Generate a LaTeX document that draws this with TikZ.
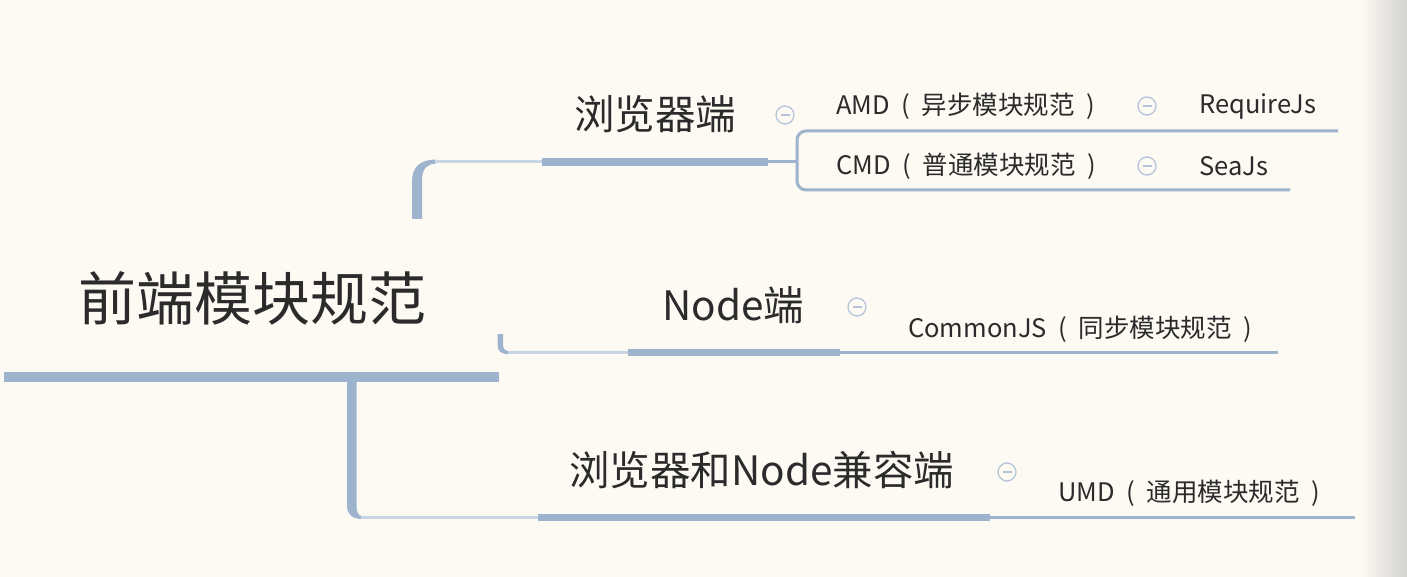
\documentclass[tikz,border=0pt]{standalone}
\usepackage{fontspec}
\setmainfont{Noto Sans CJK SC}
\definecolor{bg}{HTML}{FDFAF3}
\definecolor{edge}{HTML}{D3D3D2}
\definecolor{mainc}{HTML}{9EB3CD}
\definecolor{lightc}{HTML}{C9D5E3}
\definecolor{iconc}{HTML}{B5C5D8}
\definecolor{txt}{HTML}{2B2B2B}
\newcommand\mylp{\makebox[1.25em][c]{(}}
\newcommand\myrp{\makebox[1.25em][c]{)}}
\tikzset{
  rootstyle/.style={inner sep=0, anchor=west, text=txt, font=\fontsize{58}{64}\selectfont},
  subtopic/.style={inner sep=0, anchor=west, text=txt, font=\fontsize{40.5}{46}\selectfont},
  leaf/.style={inner sep=0, anchor=west, text=txt, font=\fontsize{25.5}{30}\selectfont},
  collapse/.style={circle, draw=iconc, line width=1.3, minimum size=18, inner sep=0,
    path picture={\draw[iconc, line width=1.3] ([xshift=-4.5]path picture bounding box.center) -- ([xshift=4.5]path picture bounding box.center);}},
  thickline/.style={draw=mainc, line cap=butt},
  thinline/.style={draw=mainc, line width=3},
  fadeline/.style={draw=lightc, line width=3.5},
}
\begin{document}
\begin{tikzpicture}[x=1pt,y=-1pt]
\useasboundingbox (0,0) rectangle (1407,577);
\fill[bg] (0,0) rectangle (1407,577);
\shade[left color=bg, right color=edge] (1360,0) rectangle (1407,577);

% texts
\node[rootstyle] (root) at (78,298) {前端模块规范};
\node[subtopic] (browser) at (574,114) {浏览器端};
\node[subtopic] (node) at (662,305.5) {Node端};
\node[subtopic] (both) at (569,470) {浏览器和Node兼容端};
\node[leaf] (amd) at (836,106.5) {AMD\mylp 异步模块规范\myrp};
\node[leaf] (cmd) at (836,166.5) {CMD\mylp 普通模块规范\myrp};
\node[leaf] (req) at (1199,106.5) {RequireJs};
\node[leaf] (sea) at (1199,166.5) {SeaJs};
\node[leaf] (cjs) at (908,329) {CommonJS\mylp 同步模块规范\myrp};
\node[leaf] (umd) at (1058,493) {UMD\mylp 通用模块规范\myrp};

% collapse icons
\node[collapse] (c1) at (785,115) {};
\node[collapse] (c2) at (1147,106) {};
\node[collapse] (c3) at (1147,166) {};
\node[collapse] (c4) at (857,307) {};
\node[collapse] (c5) at (1007,472) {};

% root underline and trunk
\coordinate (rootL) at (4,376.7);
\coordinate (rootR) at (499,376.7);
\draw[thickline, line width=10] (rootL) -- (rootR);
\fill[mainc] (347,381) -- (347,506) .. controls (347,514) and (352,519) .. (362,519) -- (362,516) .. controls (358,516) and (356.5,512) .. (356.5,504) -- (356.5,381) -- cycle;
\coordinate (bothA) at (361,517.5);
\coordinate (bothB) at (538,517.5);
\coordinate (bothC) at (990,517.5);
\coordinate (bothD) at (1355,517.5);
\draw[fadeline] (bothA) -- (bothB);
\draw[thickline, line width=7.5] (bothB) -- (bothC);
\draw[thinline] (bothC) -- (bothD);

% top branch
\fill[mainc] (412,219) -- (412,182) .. controls (412,167) and (420,159.6) .. (436,159.6) -- (436,163.6) .. controls (428,163.6) and (422,168) .. (422,180) -- (422,219) -- cycle;
\coordinate (brA) at (435,161.6);
\coordinate (brB) at (542,161.6);
\coordinate (brC) at (768,161.6);
\coordinate (brD) at (797,161.6);
\draw[fadeline] (brA) -- (brB);
\draw[thickline, line width=8] (brB) -- (brC);
\draw[thinline] (brC) -- (brD);
\coordinate (amdEnd) at (1338,131);
\coordinate (cmdEnd) at (1290,190);
\draw[thinline, rounded corners=9] (amdEnd) -- (797,131) -- (797,190) -- (cmdEnd);

% node branch
\fill[mainc] (497.5,334) -- (497.5,345) .. controls (497.5,351) and (501,354.2) .. (509,354.2) -- (509,351) .. controls (505,351) and (503,349) .. (503,344) -- (503,334) -- cycle;
\coordinate (ndA) at (508,352.6);
\coordinate (ndB) at (628,352.6);
\coordinate (ndC) at (840,352.6);
\coordinate (ndD) at (1278,352.6);
\draw[fadeline] (ndA) -- (ndB);
\draw[thickline, line width=7] (ndB) -- (ndC);
\draw[thinline] (ndC) -- (ndD);
\end{tikzpicture}
\end{document}
